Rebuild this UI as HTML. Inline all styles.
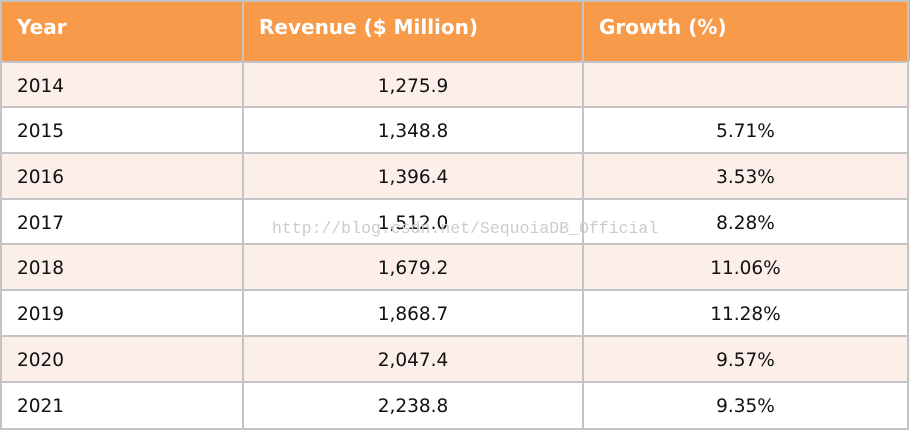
<!DOCTYPE html><html><head><style>
body{margin:0;width:912px;height:438px;background:#fff;position:relative;font-family:"DejaVu Sans",sans-serif;overflow:hidden}
.r{position:absolute;left:0;width:910px;}
.c{position:absolute;top:0;height:100%;display:flex;align-items:center;font-size:18.5px;color:#111}
.v{position:absolute;background:#c4c4c4}
.h{color:#fff;font-weight:bold;font-size:20px}
</style></head><body>
<div class="r" style="top:0;height:61px;background:#f79a4a"></div>
<div class="r" style="top:61px;height:46px;background:#fceee9"></div>
<div class="r" style="top:153px;height:46px;background:#fceee9"></div>
<div class="r" style="top:244px;height:46px;background:#fceee9"></div>
<div class="r" style="top:336px;height:46px;background:#fceee9"></div>
<div class="v" style="left:0;top:0;width:2px;height:430px"></div>
<div class="v" style="left:907px;top:0;width:2px;height:430px"></div>
<div class="v" style="left:0;top:0;width:909px;height:2px"></div>
<div class="v" style="left:242px;top:0;width:2px;height:430px"></div>
<div class="v" style="left:582px;top:0;width:2px;height:430px"></div>
<div class="v" style="left:0;top:61px;width:909px;height:2px"></div>
<div class="v" style="left:0;top:106px;width:909px;height:2px"></div>
<div class="v" style="left:0;top:152px;width:909px;height:2px"></div>
<div class="v" style="left:0;top:198px;width:909px;height:2px"></div>
<div class="v" style="left:0;top:243px;width:909px;height:2px"></div>
<div class="v" style="left:0;top:289px;width:909px;height:2px"></div>
<div class="v" style="left:0;top:335px;width:909px;height:2px"></div>
<div class="v" style="left:0;top:381px;width:909px;height:2px"></div>
<div class="v" style="left:0;top:428px;width:909px;height:2px"></div>
<div class="r" style="top:0;height:53px">
<div class="c h" style="left:17px">Year</div>
<div class="c h" style="left:259px">Revenue ($ Million)</div>
<div class="c h" style="left:599px">Growth (%)</div></div>
<div id="rows"></div>
<div style="position:absolute;left:272px;top:219px;font-family:'Liberation Mono',monospace;font-size:16.5px;color:#ccc">http://blog.csdn.net/SequoiaDB_Official</div>
<script>
var d=[["2014","1,275.9",""],["2015","1,348.8","5.71%"],["2016","1,396.4","3.53%"],["2017","1,512.0","8.28%"],["2018","1,679.2","11.06%"],["2019","1,868.7","11.28%"],["2020","2,047.4","9.57%"],["2021","2,238.8","9.35%"]];
var tops=[63,108,154,200,245,291,337,383],h="";
d.forEach(function(r,i){h+='<div class="r" style="top:'+tops[i]+'px;height:46px"><div class="c" style="left:17px">'+r[0]+'</div><div class="c" style="left:244px;width:338px;justify-content:center">'+r[1]+'</div><div class="c" style="left:584px;width:323px;justify-content:center">'+r[2]+'</div></div>';});
document.getElementById("rows").innerHTML=h;
</script>
</body></html>
